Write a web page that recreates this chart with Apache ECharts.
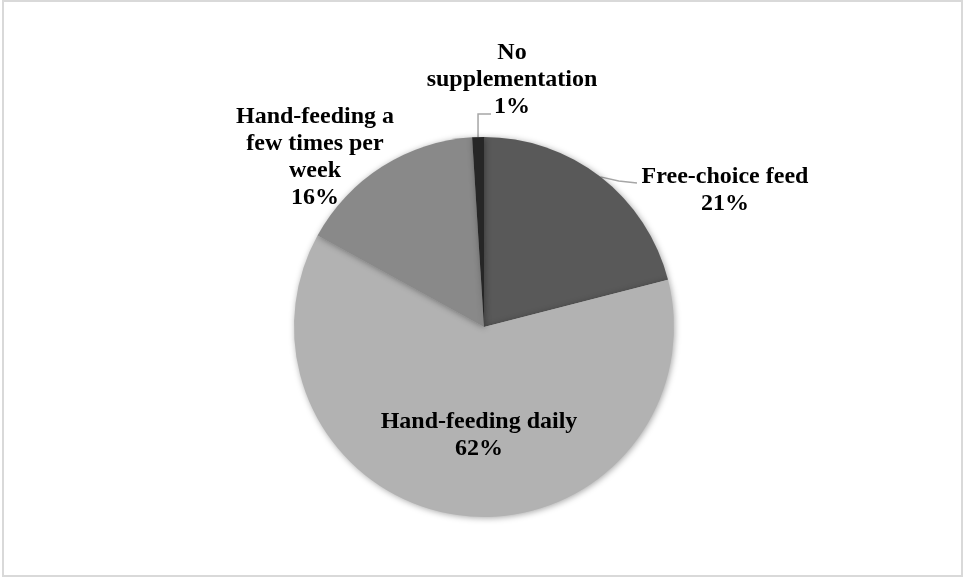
<!DOCTYPE html>
<html>
<head>
<meta charset="utf-8">
<script src="https://cdn.jsdelivr.net/npm/echarts@6/dist/echarts.min.js"></script>
<style>
    html, body { margin: 0; padding: 0; background: #fff; }
    #chart { width: 964px; height: 578px; }
</style>
</head>
<body>
<div id="chart"></div>
<script>
var categories = ['Free-choice feed', 'Hand-feeding daily', 'Hand-feeding a\nfew times per\nweek', 'No\nsupplementation'];
var percents = [21, 62, 16, 1];
var colors = ['#595959', '#b2b2b2', '#898989', '#262626'];

var pieCenter = [484, 327];
var pieRadius = 190;
// where each label block sits (centre of the text)
var labelSpots = [[725, 190], [479, 435], [315, 157], [512, 80]];

// point on the pie rim at the middle of slice i
function rimPoint(i) {
    var total = percents.reduce(function (a, b) { return a + b; }, 0);
    var before = 0;
    for (var k = 0; k < i; k++) before += percents[k];
    var ang = (before + percents[i] / 2) / total * Math.PI * 2;
    return [pieCenter[0] + pieRadius * Math.sin(ang), pieCenter[1] - pieRadius * Math.cos(ang)];
}

var chart = echarts.init(document.getElementById('chart'));

var chartData = categories.map(function (name, i) {
    return {
        name: name,
        value: percents[i],
        itemStyle: {color: colors[i]},
        label: {position: i === 1 ? 'inside' : 'outside'},
        labelLine: {show: i === 0 || i === 3}
    };
});

var option = {
    animation: false,
    graphic: [{
        type: 'rect',
        shape: {x: 3, y: 1, width: 959, height: 575},
        style: {fill: 'none', stroke: '#d9d9d9', lineWidth: 2},
        silent: true
    }],
    series: [{
        type: 'pie',
        center: pieCenter,
        radius: pieRadius,
        startAngle: 90,
        clockwise: true,
        avoidLabelOverlap: false,
        itemStyle: {
            borderWidth: 0,
            shadowBlur: 6,
            shadowColor: 'rgba(0,0,0,0.35)',
            shadowOffsetX: 1,
            shadowOffsetY: 1
        },
        label: {
            show: true,
            formatter: '{b}\n{c}%',
            fontFamily: 'Liberation Serif',
            fontWeight: 'bold',
            fontSize: 24,
            lineHeight: 27,
            color: '#000',
            align: 'center'
        },
        labelLine: {
            length: 15,
            length2: 20,
            lineStyle: {color: '#a6a6a6', width: 1.5}
        },
        labelLayout: function (params) {
            var i = params.dataIndex;
            var p = labelSpots[i];
            var res = {x: p[0], y: p[1], align: 'center', verticalAlign: 'middle'};
            var r = rimPoint(i);
            if (i === 0) {
                res.labelLinePoints = [r, [(r[0] + 637) / 2, 181], [637, 183]];
            } else if (i === 3) {
                res.labelLinePoints = [r, [r[0], 114], [491, 114]];
            }
            return res;
        },
        data: chartData
    }]
};
chart.setOption(option);
</script>
</body>
</html>
